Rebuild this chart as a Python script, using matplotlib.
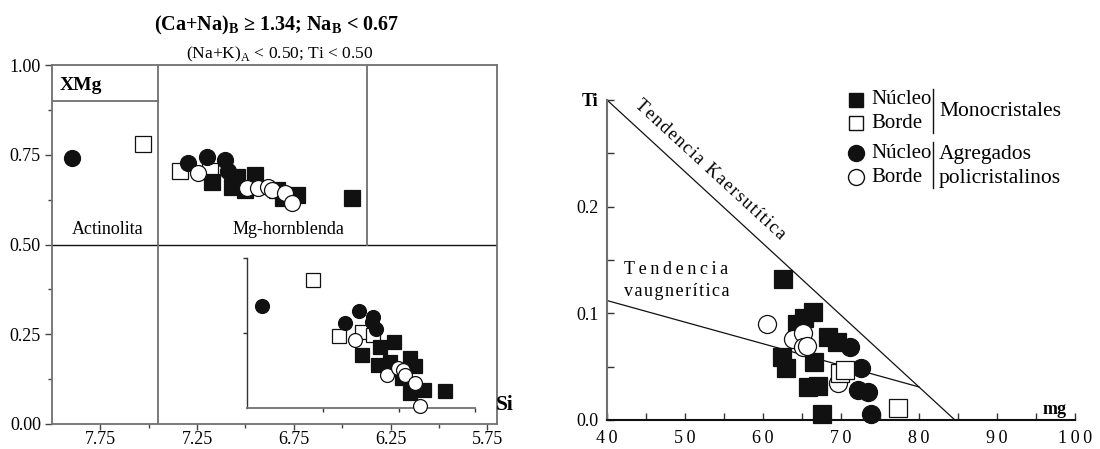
import matplotlib
matplotlib.use("Agg")
import matplotlib.pyplot as plt
from matplotlib.lines import Line2D

plt.rcParams["font.family"] = ["Liberation Serif", "DejaVu Serif"]
plt.rcParams["mathtext.fontset"] = "custom"
plt.rcParams["mathtext.rm"] = "Liberation Serif"
plt.rcParams["mathtext.bf"] = "Liberation Serif:bold"

# ---------------------------------------------------------------------------
# XMg vs Si (diagrama de Leake) — panel principal
# ---------------------------------------------------------------------------
mono_nucleo_si = [7.173, 7.044, 7.070, 6.951, 7.003, 6.837, 6.734, 6.806, 6.450]
mono_nucleo_xmg = [0.674, 0.688, 0.660, 0.694, 0.652, 0.652, 0.638, 0.630, 0.630]
mono_borde_si = [7.530, 7.339, 7.183]
mono_borde_xmg = [0.780, 0.705, 0.705]
agr_nucleo_si = [7.897, 7.297, 7.199, 7.106, 7.090]
agr_nucleo_xmg = [0.741, 0.727, 0.744, 0.735, 0.705]
agr_borde_si = [7.245, 6.992, 6.935, 6.884, 6.863, 6.796, 6.760]
agr_borde_xmg = [0.699, 0.657, 0.657, 0.660, 0.652, 0.643, 0.616]

# ampliación (recuadro)
zoom_mono_nucleo_si = [6.549, 6.688, 6.865, 6.707, 6.589, 6.392, 6.342, 6.470, 6.392, 6.253, 6.046]
zoom_mono_nucleo_xmg = [0.676, 0.663, 0.641, 0.615, 0.623, 0.633, 0.612, 0.580, 0.540, 0.548, 0.545]
zoom_mono_borde_si = [7.350, 7.092, 6.865, 6.757]
zoom_mono_borde_xmg = [0.841, 0.692, 0.703, 0.695]
zoom_agr_nucleo_si = [7.850, 6.895, 6.757, 7.033, 6.727, 6.767]
zoom_agr_nucleo_xmg = [0.772, 0.759, 0.743, 0.727, 0.711, 0.729]
zoom_agr_borde_si = [6.934, 6.619, 6.510, 6.461, 6.441, 6.342, 6.293]
zoom_agr_borde_xmg = [0.681, 0.588, 0.607, 0.601, 0.588, 0.567, 0.505]

# ---------------------------------------------------------------------------
# Ti vs mg
# ---------------------------------------------------------------------------
ti_mono_nucleo_mg = [62.6, 66.4, 65.2, 64.4, 62.4, 62.9, 66.5, 68.3, 69.5, 65.8, 67.0, 67.6]
ti_mono_nucleo_ti = [0.132, 0.101, 0.096, 0.090, 0.059, 0.049, 0.054, 0.078, 0.073, 0.031, 0.032, 0.006]
ti_mono_borde_mg = [69.9, 70.5, 77.3]
ti_mono_borde_ti = [0.044, 0.047, 0.011]
ti_agr_nucleo_mg = [71.2, 72.5, 72.2, 73.5, 73.8]
ti_agr_nucleo_ti = [0.068, 0.049, 0.028, 0.026, 0.006]
ti_agr_borde_mg = [60.5, 63.8, 65.1, 65.1, 65.6, 69.6]
ti_agr_borde_ti = [0.090, 0.076, 0.082, 0.068, 0.069, 0.035]

kaersutita_mg = [40, 84.6]
kaersutita_ti = [0.30, 0.0]
vaugnerita_mg = [40, 80]
vaugnerita_ti = [0.112, 0.031]

W, H = 1100, 449
INK = "#111111"
GRIS = "#707070"


def fx(px):
    return px / W


def fy(py):
    return 1 - py / H


def box(x0, y0, x1, y1):
    """Rectángulo en píxeles (origen arriba-izquierda) -> fracción de figura."""
    return [fx(x0), fy(y1), (x1 - x0) / W, (y1 - y0) / H]


def puntos(ax, x, y, marker, lleno, ms, z):
    ax.plot(x, y, linestyle="none", marker=marker, ms=ms,
            mfc=INK if lleno else "white", mec=INK, mew=0.9,
            zorder=z, clip_on=False)


def espaciado(s, sep="\u2009"):
    return sep.join(s)


fig = plt.figure(figsize=(W / 100, H / 100), dpi=100)
fig.patch.set_facecolor("white")

# ── Panel izquierdo ────────────────────────────────────────────────────────
ax = fig.add_axes(box(52, 65, 497, 424))
ax.set_xlim(8.0, 5.70)
ax.set_ylim(0, 1.0)
for s in ax.spines.values():
    s.set_color(GRIS)
    s.set_linewidth(1.3)
ax.set_xticks([7.75, 7.25, 6.75, 6.25, 5.75])
ax.set_xticklabels(["7.75", "7.25", "6.75", "6.25", "5.75"])
ax.set_xticks([7.5, 7.0, 6.5, 6.0], minor=True)
ax.set_yticks([0, 0.25, 0.5, 0.75, 1.0])
ax.set_yticklabels(["0.00", "0.25", "0.50", "0.75", "1.00"])
ax.set_yticks([0.125, 0.375, 0.625, 0.875], minor=True)
ax.tick_params(which="major", direction="out", length=5, width=1, color="#444444",
               labelsize=13, pad=3)
ax.tick_params(axis="x", which="major", length=4, pad=1)
ax.tick_params(which="minor", direction="out", length=3, width=1, color="#444444")

# campos de clasificación
ax.axhline(0.5, color=INK, lw=1.0)
ax.plot([7.452, 7.452], [0, 1.0], color=GRIS, lw=1.3)
ax.plot([6.372, 6.372], [0.5, 1.0], color=GRIS, lw=1.3)
ax.plot([8.0, 7.452], [0.9, 0.9], color=GRIS, lw=1.3)

puntos(ax, mono_borde_si, mono_borde_xmg, "s", False, 11, 3)
puntos(ax, agr_nucleo_si, agr_nucleo_xmg, "o", True, 11.5, 4)
puntos(ax, mono_nucleo_si, mono_nucleo_xmg, "s", True, 11, 5)
puntos(ax, agr_borde_si, agr_borde_xmg, "o", False, 11.5, 6)

# recuadro ampliado
axi = fig.add_axes(box(247, 258, 475, 408))
axi.set_xlim(8.0, 5.75)
axi.set_ylim(0.5, 0.9)
axi.patch.set_alpha(0)
axi.spines["top"].set_visible(False)
axi.spines["right"].set_visible(False)
axi.spines["left"].set_color("#333333")
axi.spines["bottom"].set_color(GRIS)
axi.spines["left"].set_linewidth(1.0)
axi.spines["bottom"].set_linewidth(1.3)
axi.set_xticks([7.25, 6.5, 5.75])
axi.set_yticks([0.7, 0.9])
axi.tick_params(direction="out", length=3, width=1, color="#333333",
                labelbottom=False, labelleft=False)

puntos(axi, zoom_mono_borde_si, zoom_mono_borde_xmg, "s", False, 9.5, 3)
puntos(axi, zoom_agr_nucleo_si, zoom_agr_nucleo_xmg, "o", True, 10, 4)
puntos(axi, zoom_mono_nucleo_si, zoom_mono_nucleo_xmg, "s", True, 9.5, 5)
puntos(axi, zoom_agr_borde_si, zoom_agr_borde_xmg, "o", False, 10, 6)

fig.text(fx(277), fy(25), "(Ca+Na)$_\\mathbf{B}$ \u2265 1.34; Na$_\\mathbf{B}$ < 0.67",
         ha="center", va="center", fontsize=14.5, fontweight="bold")
fig.text(fx(280), fy(54), "(Na+K)$_\\mathrm{A}$ < 0.50; Ti < 0.50",
         ha="center", va="center", fontsize=12.5)
fig.text(fx(81), fy(85), "XMg", ha="center", va="center", fontsize=14, fontweight="bold")
fig.text(fx(108), fy(230), "Actinolita", ha="center", va="center", fontsize=13)
fig.text(fx(288), fy(230), "Mg-hornblenda", ha="center", va="center", fontsize=13)
fig.text(fx(505), fy(405), "Si", ha="center", va="center", fontsize=15.5, fontweight="bold")

# ── Panel derecho ──────────────────────────────────────────────────────────
ax2 = fig.add_axes(box(607, 100, 1075, 420))
ax2.set_xlim(40, 100)
ax2.set_ylim(0, 0.3)
ax2.spines["top"].set_visible(False)
ax2.spines["right"].set_visible(False)
ax2.spines["left"].set_color(GRIS)
ax2.spines["left"].set_linewidth(1.5)
ax2.spines["bottom"].set_color(INK)
ax2.spines["bottom"].set_linewidth(1.5)
ax2.set_xticks(range(40, 101, 10))
ax2.set_xticklabels([espaciado(str(v)) for v in range(40, 101, 10)])
ax2.set_xticks(range(45, 100, 10), minor=True)
ax2.set_yticks([0, 0.1, 0.2, 0.3])
ax2.set_yticklabels(["0.0", "0.1", "0.2", ""])
ax2.set_yticks([0.05, 0.15, 0.25], minor=True)
ax2.tick_params(which="both", direction="in", length=5, width=1, color="#333333",
                labelsize=13)
ax2.tick_params(axis="x", which="major", pad=7)
ax2.tick_params(axis="y", which="major", pad=6)

ax2.plot(kaersutita_mg, kaersutita_ti, color=INK, lw=0.9, clip_on=False)
ax2.plot(vaugnerita_mg, vaugnerita_ti, color=INK, lw=0.9)

puntos(ax2, ti_mono_nucleo_mg, ti_mono_nucleo_ti, "s", True, 12.5, 3)
puntos(ax2, ti_agr_nucleo_mg, ti_agr_nucleo_ti, "o", True, 13, 4)
puntos(ax2, ti_agr_borde_mg, ti_agr_borde_ti, "o", False, 13, 5)
puntos(ax2, ti_mono_borde_mg, ti_mono_borde_ti, "s", False, 12.5, 6)

fig.text(fx(590), fy(102), "Ti", ha="center", va="center", fontsize=13, fontweight="bold")
fig.text(fx(1055), fy(410), "mg", ha="center", va="center", fontsize=13, fontweight="bold")
fig.text(fx(710), fy(170), espaciado("Tendencia Kaersutítica", "\u200a"),
         ha="center", va="center", rotation=-42.6, rotation_mode="anchor", fontsize=13)
fig.text(fx(624), fy(270), espaciado("Tendencia"), ha="left", va="center", fontsize=13)
fig.text(fx(624), fy(292), espaciado("vaugnerítica", "\u200a"), ha="left", va="center",
         fontsize=13)

# leyenda construida a mano
leyenda = [
    (100, "s", True, "Núcleo"),
    (123, "s", False, "Borde"),
    (153, "o", True, "Núcleo"),
    (177, "o", False, "Borde"),
]
for py, mk, lleno, txt in leyenda:
    fig.add_artist(Line2D([fx(856)], [fy(py)], marker=mk, linestyle="none",
                          ms=10 if mk == "s" else 11.5, mfc=INK if lleno else "white",
                          mec=INK, mew=1.0))
    fig.text(fx(871), fy(py), txt, ha="left", va="center", fontsize=15)

fig.add_artist(Line2D([fx(933), fx(933)], [fy(89), fy(133)], color=INK, lw=1.0))
fig.add_artist(Line2D([fx(933), fx(933)], [fy(142), fy(188)], color=INK, lw=1.0))
fig.text(fx(939), fy(112), "Monocristales", ha="left", va="center", fontsize=15.5)
fig.text(fx(939), fy(154), "Agregados", ha="left", va="center", fontsize=15.5)
fig.text(fx(939), fy(178), "policristalinos", ha="left", va="center", fontsize=15.5)

fig.savefig("out.png", dpi=100)
